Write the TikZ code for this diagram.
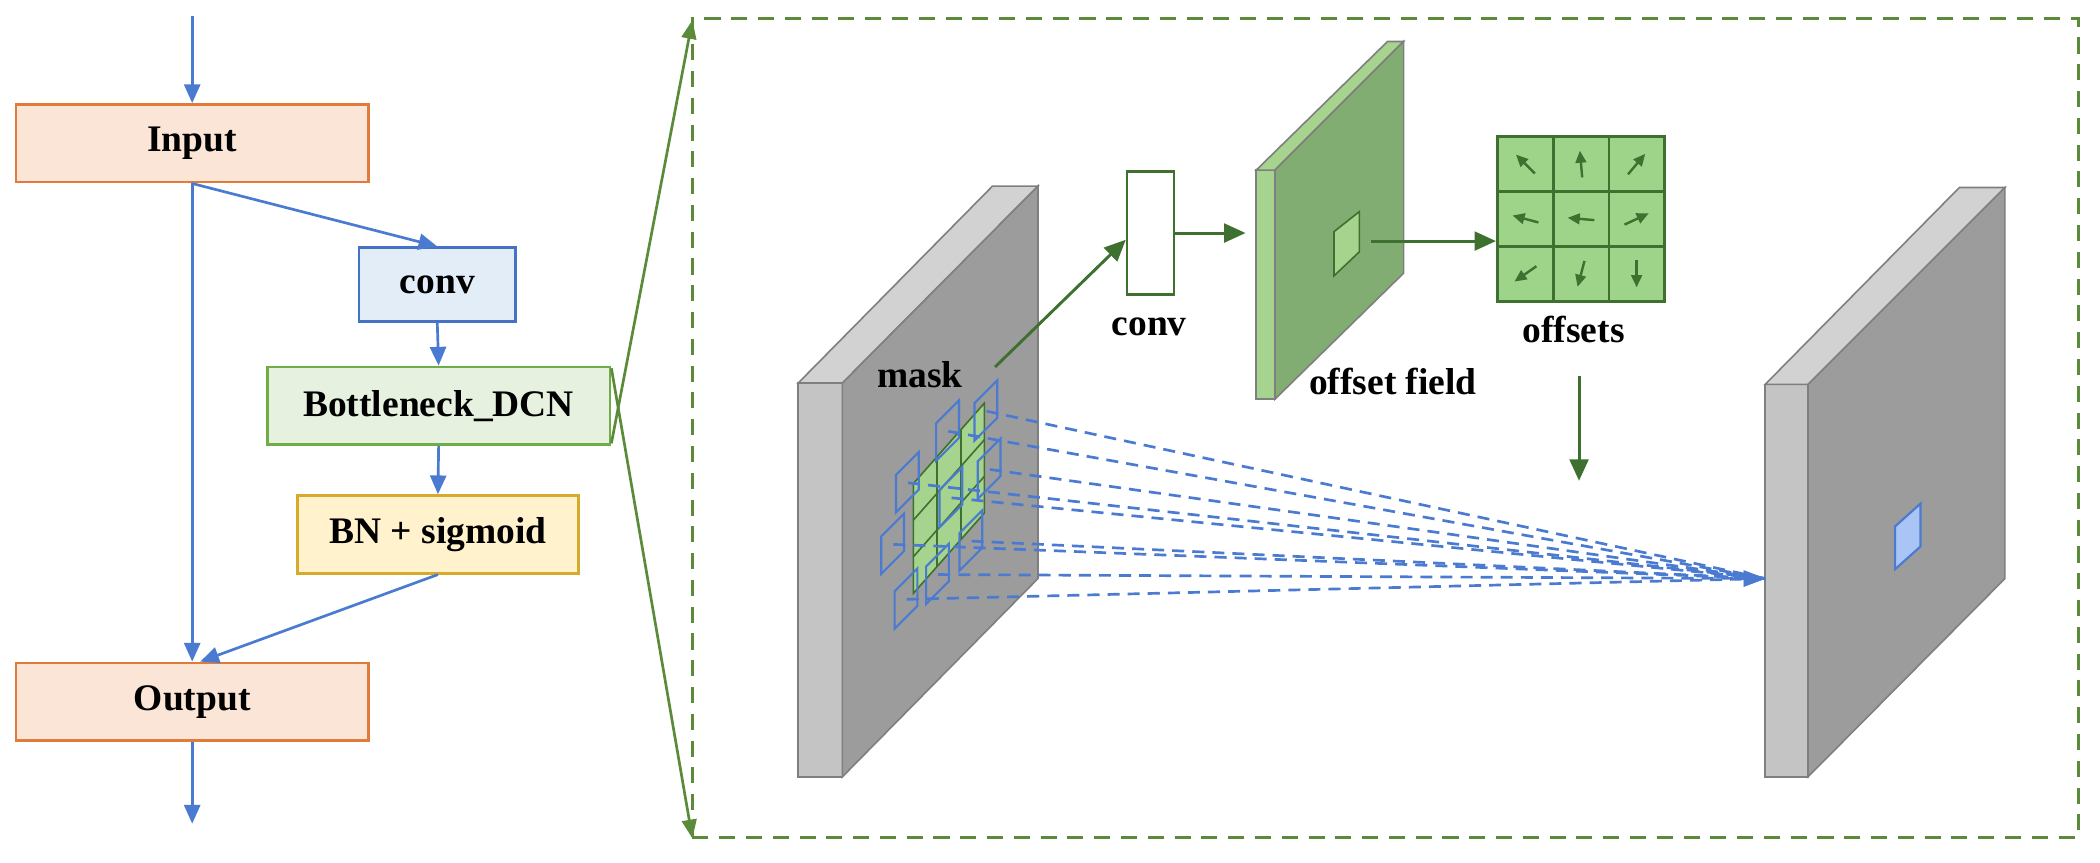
\documentclass[tikz,border=0pt]{standalone}
\usepackage{fontspec}
\setmainfont{Liberation Serif}
\usetikzlibrary{arrows.meta}
\definecolor{oB}{HTML}{E07B39}\definecolor{oF}{HTML}{FBE5D6}
\definecolor{bB}{HTML}{4472C4}\definecolor{bF}{HTML}{E3EDF8}
\definecolor{gB}{HTML}{70AD47}\definecolor{gF}{HTML}{E6F1DF}
\definecolor{yB}{HTML}{D6AA2A}\definecolor{yF}{HTML}{FFF2CC}
\definecolor{arB}{HTML}{4A7BD0}\definecolor{dG}{HTML}{3E7030}
\definecolor{boxG}{HTML}{5A8A3A}
\definecolor{slS}{HTML}{C4C4C4}\definecolor{slF}{HTML}{9C9C9C}\definecolor{slT}{HTML}{D2D2D2}\definecolor{slE}{HTML}{7F7F7F}
\definecolor{fF}{HTML}{82AD72}\definecolor{fS}{HTML}{A6D38E}\definecolor{gridF}{HTML}{9ED48A}
\definecolor{blF}{HTML}{A9C4F5}
\begin{document}
\begin{tikzpicture}[x=1pt,y=-1pt,
  txt/.style={font=\fontsize{28}{32}\selectfont\bfseries},
  blk/.style={draw,line width=2pt,minimum height=58pt,txt,inner sep=0pt},
  barr/.style={draw=arB,line width=2pt,-{Triangle[length=14pt,width=12pt]}},
  garr/.style={draw=dG,line width=2.2pt,-{Triangle[length=16pt,width=14pt]}},
  zarr/.style={draw=boxG,line width=2pt,-{Triangle[length=14pt,width=11pt]}},
  slab/.style={draw=slE,line width=1.2pt},
  bpar/.style={draw=arB,line width=1.6pt},
  dsh/.style={draw=arB,line width=2pt,dash pattern=on 9pt off 6pt},
  sarr/.style={draw=dG,line width=1.8pt,-{Triangle[length=9pt,width=8pt]}}]
\useasboundingbox (0,0) rectangle (1568,644);
% left flow
\node[blk,draw=oB,fill=oF,minimum width=263pt] (in) at (143.5,107) {Input};
\node[blk,draw=bB,fill=bF,minimum width=117pt,minimum height=55pt] (cv) at (326.5,212.5) {conv};
\node[blk,draw=gB,fill=gF,minimum width=256pt] (bn) at (327.5,303) {Bottleneck\_DCN};
\node[blk,draw=yB,fill=yF,minimum width=210pt] (bs) at (327,399) {BN + sigmoid};
\node[blk,draw=oB,fill=oF,minimum width=263pt] (out) at (143.5,524) {Output};
\coordinate (top) at (143.5,12);
\coordinate (bot) at (143.5,615);
\draw[barr] (top) -- (in.north);
\draw[barr] (in.south) -- (out.north);
\draw[barr] (in.south) -- (cv.north);
\draw[barr] (cv.south) -- (bn.north);
\draw[barr] (bn.south) -- (bs.north);
\draw[barr] (bs.south) -- ([xshift=6pt]out.north);
\draw[barr] (out.south) -- (bot);
% dashed frame
\node[draw=boxG,line width=2.2pt,dash pattern=on 12pt off 8pt,minimum width=1035pt,minimum height=611pt,inner sep=0pt] (frame) at (1034.5,319.5) {};
\coordinate (ft) at (517,15);
\coordinate (fb) at (517,626);
\draw[zarr] ([yshift=-28pt]bn.east) -- (ft);
\draw[zarr] ([yshift=28pt]bn.east) -- (fb);
% left slab
\filldraw[slab,fill=slS] (596,286) -- (629,286) -- (629,580) -- (596,580) -- cycle;
\filldraw[slab,fill=slT] (596,286) -- (629,286) -- (775,139) -- (741,139) -- cycle;
\filldraw[slab,fill=slF] (629,286) -- (775,139) -- (775,432) -- (629,580) -- cycle;
% right slab
\filldraw[slab,fill=slS] (1318,287) -- (1350,287) -- (1350,580) -- (1318,580) -- cycle;
\filldraw[slab,fill=slT] (1318,287) -- (1350,287) -- (1497,140) -- (1463,140) -- cycle;
\filldraw[slab,fill=slF] (1350,287) -- (1497,140) -- (1497,432) -- (1350,580) -- cycle;
\filldraw[draw=arB,line width=1.6pt,fill=blF] (1415,393) -- (1434,376) -- (1434,408) -- (1415,425) -- cycle;
% green patch on mask
\filldraw[draw=dG,line width=1.2pt,fill=fS] (682,361) -- (735,301) -- (735,383) -- (682,443) -- cycle;
\foreach \t in {1,2}{
  \draw[dG,line width=1.2pt] ({682+53*\t/3},{361-60*\t/3}) -- ({682+53*\t/3},{443-60*\t/3});
  \draw[dG,line width=1.2pt] (682,{361+82*\t/3}) -- (735,{301+82*\t/3});}
% blue sampling cells and dashed lines
\coordinate (tgt) at (1318,432);
\foreach \x/\y [count=\i] in {727.6/301,699/316,669/354.5,730/344.5,701.5/365.7,658/400.5,716.4/398,691.5/423,668/441.5}{
  \draw[bpar] (\x,\y) -- (\x+17,\y-17) -- (\x+17,\y+11) -- (\x,\y+28) -- cycle;
  \coordinate (s\i) at (\x+9,\y+6);
}
\foreach \i in {1,...,9}{\draw[dsh] (s\i) -- (tgt);}
\draw[draw=arB,fill=arB] (tgt) -- ++(-16,-6) -- ++(0,12) -- cycle;
\node[txt,anchor=center] (mask) at (687,280) {mask};
% conv small box
\node[draw=dG,line width=1.8pt,fill=white,minimum width=35pt,minimum height=92pt,inner sep=0pt] (sc) at (859,174) {};
\node[txt] (sct) at (858,244) {conv};
\coordinate (mk) at (743,274);
\draw[garr] (mk) -- (sc.west|-0,179);
% offset field slab
\filldraw[draw=slE,line width=1.2pt,fill=fS] (938,127) -- (952,127) -- (952,298) -- (938,298) -- cycle;
\filldraw[draw=slE,line width=1.2pt,fill=fS] (938,127) -- (952,127) -- (1048,31) -- (1036,31) -- cycle;
\filldraw[draw=slE,line width=1.2pt,fill=fF] (952,127) -- (1048,31) -- (1048,204) -- (952,298) -- cycle;
\filldraw[draw=dG,line width=1.2pt,fill=fS] (996,173) -- (1015,158) -- (1015,188) -- (996,206) -- cycle;
\coordinate (fin) at (930,174);
\draw[garr] (sc.east|-0,174) -- (fin);
\node[txt] (oft) at (1040,285) {offset field};
% offsets grid
\node[draw=dG,line width=2pt,fill=gridF,minimum width=125pt,minimum height=123pt,inner sep=0pt] (grid) at (1180.5,163.5) {};
\draw[dG,line width=2pt] (1159.7,102) -- (1159.7,225) (1201.3,102) -- (1201.3,225) (1118,143) -- (1243,143) (1118,184) -- (1243,184);
\coordinate (sq) at (1024,180);
\draw[garr] (sq) -- (grid.west|-0,180);
\foreach \cx/\cy/\a in {1139/122.5/135,1180.5/122.5/95,1222/122.5/50,
                        1139/163.5/165,1180.5/163.5/175,1222/163.5/25,
                        1139/204.5/215,1180.5/204.5/255,1222/204.5/270}{
  \draw[sarr] ({\cx-10*cos(\a)},{\cy+10*sin(\a)}) -- ({\cx+10*cos(\a)},{\cy-10*sin(\a)});}
\node[txt] (ofs) at (1175,246) {offsets};
\coordinate (da) at (1179,281);
\coordinate (db) at (1179,359);
\draw[garr] (da) -- (db);
\end{tikzpicture}
\end{document}
